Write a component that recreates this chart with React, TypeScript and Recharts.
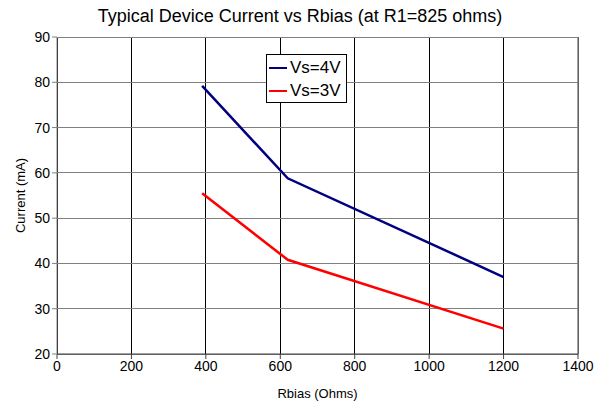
import React from "react";
import {
  LineChart,
  Line,
  XAxis,
  YAxis,
  CartesianGrid,
  ReferenceLine,
} from "recharts";

const rbias = [390, 620, 1200];
const vs4 = [79.2, 58.8, 37.0];
const vs3 = [55.5, 40.8, 25.6];
const xTicks = [0, 200, 400, 600, 800, 1000, 1200, 1400];
const yTicks = [20, 30, 40, 50, 60, 70, 80, 90];
const seriesNames = ["Vs=4V", "Vs=3V"];
const seriesColors = ["#000080", "#FF0000"];

const data = rbias.map((r, i) => ({ r, vs4: vs4[i], vs3: vs3[i] }));

const FONT = "'Liberation Sans', Arial, sans-serif";

const LegendBox = () => (
  <div
    style={{
      position: "absolute",
      left: 266,
      top: 54,
      border: "1px solid #000",
      background: "#fff",
      width: 81,
      height: 49,
      boxSizing: "border-box",
      padding: "1px 0 0 2px",
      fontFamily: FONT,
    }}
  >
    {seriesNames.map((n, i) => (
      <div
        key={n}
        style={{ display: "flex", alignItems: "center", height: 23, fontSize: 17 }}
      >
        <div style={{ width: 18, height: 2, background: seriesColors[i], marginRight: 3 }} />
        <span style={{ color: "#000" }}>{n}</span>
      </div>
    ))}
  </div>
);

export default function App() {
  return (
    <div style={{ position: "absolute", left: 0, top: 0, width: 595, height: 402, background: "#fff" }}>
      <div
        style={{
          position: "absolute",
          left: 0,
          top: 6,
          width: 600,
          textAlign: "center",
          fontFamily: FONT,
          fontSize: 18,
          color: "#000",
        }}
      >
        Typical Device Current vs Rbias (at R1=825 ohms)
      </div>
      <LineChart
        width={595}
        height={402}
        data={data}
        margin={{ top: 37, right: 17, bottom: 0, left: 0 }}
      >
        <CartesianGrid horizontal={false} stroke="#000" strokeWidth={1} shapeRendering="crispEdges" />
        <CartesianGrid vertical={false} stroke="#808080" strokeWidth={1} shapeRendering="crispEdges" />
        <ReferenceLine x={1400} stroke="#808080" strokeWidth={1.5} />
        <XAxis
          dataKey="r"
          type="number"
          domain={[0, 1400]}
          ticks={xTicks}
          interval={0}
          stroke="#404040"
          tickSize={5}
          tick={{ fill: "#000", fontSize: 14, fontFamily: FONT }}
          height={48}
          label={{ value: "Rbias (Ohms)", position: "insideBottom", offset: 4, fill: "#000", fontSize: 13, fontFamily: FONT }}
        />
        <YAxis
          type="number"
          domain={[20, 90]}
          ticks={yTicks}
          interval={0}
          stroke="#808080"
          tickSize={5}
          width={57}
          tick={{ fill: "#000", fontSize: 14, fontFamily: FONT }}
          label={{ value: "Current (mA)", angle: -90, position: "insideLeft", offset: 20, fill: "#000", fontSize: 13, fontFamily: FONT, style: { textAnchor: "middle" } }}
        />
        <Line
          dataKey="vs4"
          name={seriesNames[0]}
          stroke={seriesColors[0]}
          strokeWidth={2.5}
          dot={false}
          isAnimationActive={false}
        />
        <Line
          dataKey="vs3"
          name={seriesNames[1]}
          stroke={seriesColors[1]}
          strokeWidth={2.5}
          dot={false}
          isAnimationActive={false}
        />
      </LineChart>
      <LegendBox />
    </div>
  );
}
